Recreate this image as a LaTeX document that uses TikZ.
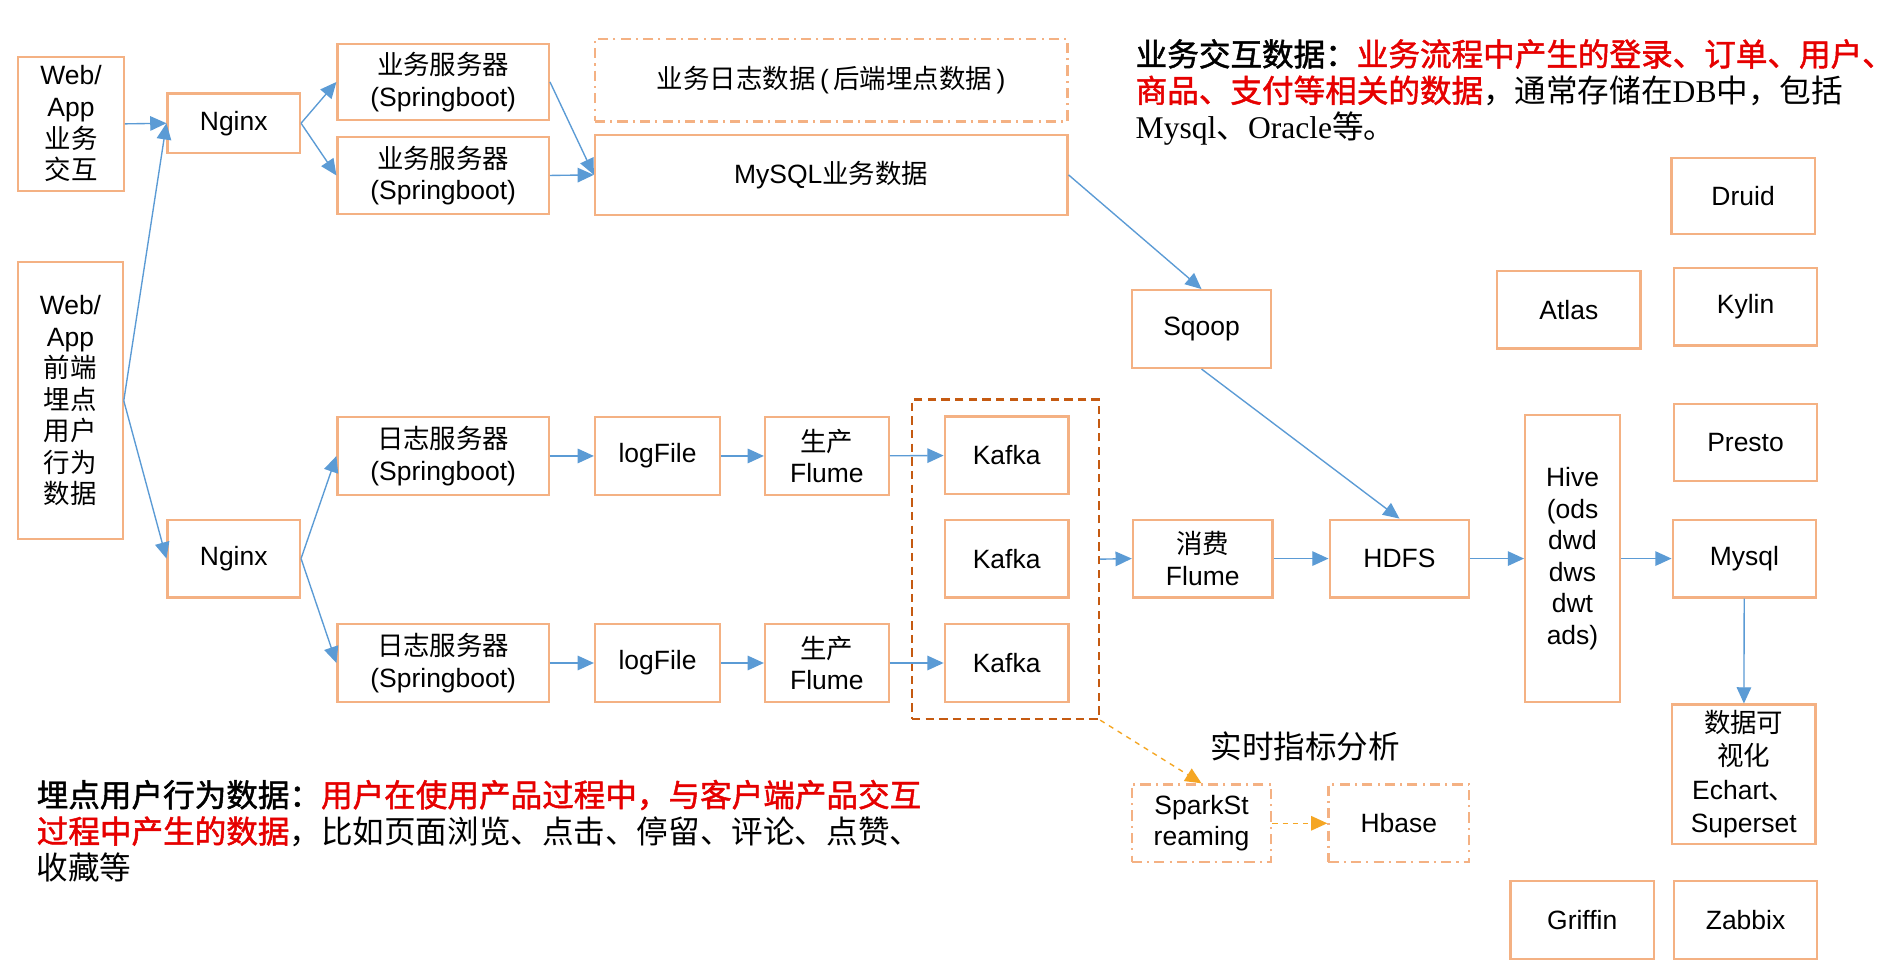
\documentclass[tikz,border=0pt]{standalone}
\usepackage{fontspec}
\setmainfont{Liberation Sans}
\newfontfamily\cjk{Noto Sans CJK SC}
\newfontfamily\cjkb[FakeBold=1.5]{Noto Sans CJK SC}
\newfontfamily\enserif{Liberation Serif}
\usepackage{tikz}
\usetikzlibrary{arrows.meta,shapes,positioning,calc}
\definecolor{boxline}{RGB}{244,177,131}
\definecolor{grpline}{RGB}{197,90,17}
\definecolor{flow}{RGB}{91,155,213}
\definecolor{rtflow}{RGB}{245,166,35}
\definecolor{hilite}{RGB}{230,0,0}

\begin{document}
\begin{tikzpicture}[
    x=0.025cm, y=-0.025cm,
    box/.style={rectangle, draw=boxline, line width=1.3pt, fill=white,
                minimum width=2.95cm, minimum height=1.6cm, align=center,
                font=\fontsize{15.5}{18.5}\selectfont},
    dbox/.style={box, dash pattern=on 6pt off 3pt on 1.2pt off 3pt},
    group/.style={rectangle, draw=grpline, line width=1.5pt, dash pattern=on 5pt off 3pt,
                  minimum width=3.85cm, minimum height=6.575cm},
    link/.style={draw=flow, line width=0.8pt, -{Triangle[length=9.5pt,width=8.5pt]}},
    rtlink/.style={draw=rtflow, line width=0.8pt, dashed, -{Triangle[length=9.5pt,width=8.5pt]}},
    note/.style={align=left, anchor=north west, inner sep=0pt, font=\fontsize{18.5}{21.3}\selectfont}
]
    \fill[white] (0,0) rectangle (1568,800);
    \useasboundingbox (0,0) rectangle (1568,800);

    % Sources
    \node[box, minimum width=2.175cm, minimum height=2.75cm] (web1) at (58.5,102) {Web/\\App\\{\cjk 业务}\\{\cjk 交互}};
    \node[box, minimum width=2.15cm, minimum height=5.7cm] (web2) at (58,330) {Web/\\App\\{\cjk 前端}\\{\cjk 埋点}\\{\cjk 用户}\\{\cjk 行为}\\{\cjk 数据}};

    % Nginx
    \node[box, minimum width=2.725cm, minimum height=1.225cm] (nginx1) at (192.5,101.5) {Nginx};
    \node[box, minimum width=2.725cm] (nginx2) at (192.5,460) {Nginx};

    % Business servers
    \node[box, minimum width=4.35cm, minimum height=1.575cm] (svc1) at (365,67.5) {{\cjk 业务服务器}\\(Springboot)};
    \node[box, minimum width=4.35cm, minimum height=1.575cm] (svc2) at (365,144.5) {{\cjk 业务服务器}\\(Springboot)};
    \node[dbox, minimum width=9.725cm, minimum height=1.7cm] (bizlog) at (684.5,66) {{\cjk 业务日志数据}\,(\,{\cjk 后端埋点数据}\,)};
    \node[box, minimum width=9.725cm, minimum height=1.65cm] (bizdb) at (684.5,144) {MySQL{\cjk 业务数据}};

    % Log servers
    \node[box, minimum width=4.35cm] (logsrv1) at (365,375.5) {{\cjk 日志服务器}\\(Springboot)};
    \node[box, minimum width=4.35cm] (logsrv2) at (365,546) {{\cjk 日志服务器}\\(Springboot)};
    \node[box, minimum width=2.575cm] (logfile1) at (541.5,375.5) {logFile};
    \node[box, minimum width=2.575cm] (logfile2) at (541.5,546) {logFile};
    \node[box, minimum width=2.55cm] (pflume1) at (681,375.5) {{\cjk 生产}\\Flume};
    \node[box, minimum width=2.55cm] (pflume2) at (681,546) {{\cjk 生产}\\Flume};

    % Kafka
    \node[group] (kgroup) at (828,460.5) {};
    \node[box, minimum width=2.55cm] (kafka1) at (829,375) {Kafka};
    \node[box, minimum width=2.55cm] (kafka2) at (829,460) {Kafka};
    \node[box, minimum width=2.55cm] (kafka3) at (829,546) {Kafka};

    % Warehouse
    \node[box, minimum width=2.875cm] (sqoop) at (989.5,271) {Sqoop};
    \node[box, minimum width=2.875cm] (cflume) at (990.5,460) {{\cjk 消费}\\Flume};
    \node[box, minimum width=2.875cm] (hdfs) at (1152.5,460) {HDFS};
    \node[box, minimum width=1.95cm, minimum height=5.9cm] (hive) at (1295,460) {Hive\\(ods\\dwd\\dws\\dwt\\ads)};

    % Tools
    \node[box, minimum height=1.575cm] (druid) at (1435.5,161.5) {Druid};
    \node[box] (atlas) at (1292,255) {Atlas};
    \node[box] (kylin) at (1437.5,252.5) {Kylin};
    \node[box, minimum height=1.575cm] (presto) at (1437.5,364.5) {Presto};
    \node[box] (mysql) at (1436.5,460) {Mysql};
    \node[box, minimum height=2.775cm, font=\fontsize{15.5}{19.5}\selectfont] (vis) at (1436,637.5) {{\cjk 数据可}\\{\cjk 视化}\\Echart{\cjk 、}\\Superset};
    \node[box] (griffin) at (1303,757.5) {Griffin};
    \node[box] (zabbix) at (1437.5,757.5) {Zabbix};

    % Real time
    \node[font=\fontsize{18.5}{21}\selectfont] (rtlabel) at (1075,615) {\cjk 实时指标分析};
    \node[dbox, minimum width=2.875cm] (spark) at (989.5,678) {SparkSt\\reaming};
    \node[dbox, minimum width=2.9cm] (hbase) at (1152,678) {Hbase};

    % Notes
    \node[note] (bizinfo) at (935,32) {{\cjkb 业务交互数据：}{\color{hilite}\cjkb 业务流程中产生的登录、订单、用户、}\\
        {\color{hilite}\cjkb 商品、支付等相关的数据}{\cjk ，通常存储在}{\enserif DB}{\cjk 中，包括}\\
        {\enserif Mysql}{\cjk 、}{\enserif Oracle}{\cjk 等。}};
    \node[note] (loginfo) at (30,642) {{\cjkb 埋点用户行为数据：}{\color{hilite}\cjkb 用户在使用产品过程中，与客户端产品交互}\\
        {\color{hilite}\cjkb 过程中产生的数据}{\cjk ，比如页面浏览、点击、停留、评论、点赞、}\\
        {\cjk 收藏等}};

    % Business flow
    \draw[link] (web1.east) -- (nginx1.west);
    \draw[link] (web2.east) -- (nginx1.west);
    \draw[link] (web2.east) -- (nginx2.west);
    \draw[link] (nginx1.east) -- (svc1.west);
    \draw[link] (nginx1.east) -- (svc2.west);
    \draw[link] (svc1.east) -- (bizdb.west);
    \draw[link] (svc2.east) -- (bizdb.west);
    \draw[link] (bizdb.east) -- (sqoop.north);
    \draw[link] (sqoop.south) -- (hdfs.north);

    % Log flow
    \draw[link] (nginx2.east) -- (logsrv1.west);
    \draw[link] (nginx2.east) -- (logsrv2.west);
    \draw[link] (logsrv1) -- (logfile1);
    \draw[link] (logsrv2) -- (logfile2);
    \draw[link] (logfile1) -- (pflume1);
    \draw[link] (logfile2) -- (pflume2);
    \draw[link] (pflume1) -- (kafka1);
    \draw[link] (pflume2) -- (kafka3);
    \draw[link] (kgroup.east) -- (cflume.west);
    \draw[link] (cflume) -- (hdfs);
    \draw[link] (hdfs) -- (hive);
    \draw[link] (hive.east |- mysql.west) -- (mysql.west);
    \draw[link] (mysql) -- (vis);

    % Real time flow
    \draw[rtlink] (kgroup.south east) -- (spark.north);
    \draw[rtlink] (spark) -- (hbase);
\end{tikzpicture}
\end{document}
